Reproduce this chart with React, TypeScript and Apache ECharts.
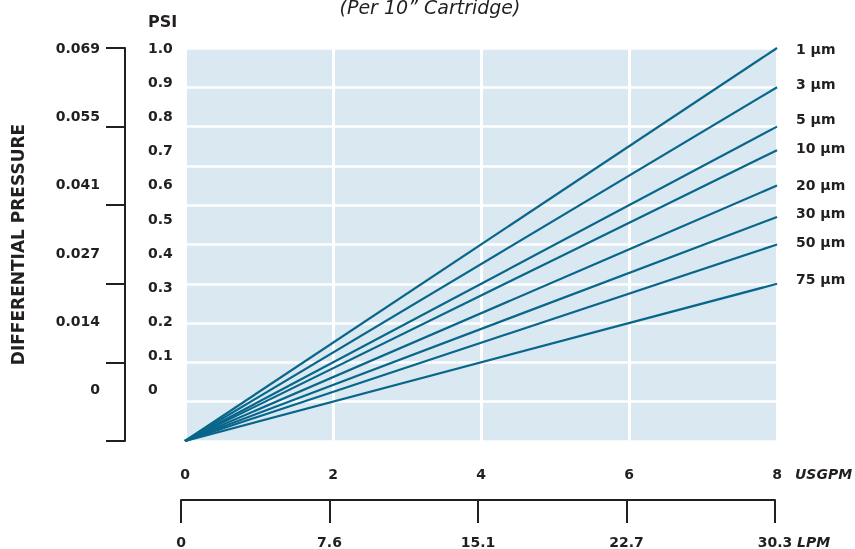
import React, { useEffect, useRef } from "react";
import * as echarts from "echarts";

// ---- data ----
const flowUSGPM = [0, 8];
const seriesNames = ["1 µm", "3 µm", "5 µm", "10 µm", "20 µm", "30 µm", "50 µm", "75 µm"];
const dp1um = [0, 1.0];
const dp3um = [0, 0.9];
const dp5um = [0, 0.8];
const dp10um = [0, 0.74];
const dp20um = [0, 0.65];
const dp30um = [0, 0.57];
const dp50um = [0, 0.5];
const dp75um = [0, 0.4];
const seriesValues = [dp1um, dp3um, dp5um, dp10um, dp20um, dp30um, dp50um, dp75um];
const barLabels = ["0", "0.014", "0.027", "0.041", "0.055", "0.069"];
const lpmLabels = ["0", "7.6", "15.1", "22.7", "30.3"];
const titleText = "(Per 10\u201D Cartridge)";

// ---- style ----
const FONT = "DejaVu Sans";
const TEXT = "#231f20";
const LINE = "#08668a";
const labelOffsets = [1, -3, -8, -2, -1, -4, -3, -5];

export default function App() {
  const ref = useRef<HTMLDivElement>(null);
  useEffect(() => {
    if (!ref.current) return;
    const chart = echarts.init(ref.current, null, { renderer: "svg" });
    const numStyle = { color: TEXT, fontFamily: FONT, fontSize: 14, fontWeight: 600 as any };
    chart.setOption({
      animation: false,
      textStyle: { fontFamily: FONT, color: TEXT },
      title: {
        text: titleText,
        left: 430,
        textAlign: "center",
        top: -3,
        padding: 0,
        textStyle: { fontFamily: FONT, fontStyle: "italic", fontWeight: "normal", fontSize: 19, color: TEXT, lineHeight: 19 },
      },
      grid: [
        { left: 185, top: 48, width: 592, height: 393, show: true, backgroundColor: "#d9e8f1", borderWidth: 0, containLabel: false, outerBoundsMode: "none" },
        { left: 148, top: 48, width: 629, height: 341, show: false, containLabel: false, outerBoundsMode: "none" },
        { left: 181, top: 480, width: 594, height: 20, show: false, containLabel: false, outerBoundsMode: "none" },
      ],
      xAxis: [
        {
          type: "value", gridIndex: 0, position: "bottom", min: 0, max: 8, interval: 2, offset: 33,
          axisLine: { show: false }, axisTick: { show: false },
          axisLabel: { ...numStyle, margin: 0, verticalAlign: "middle" },
          splitLine: { show: true, lineStyle: { color: "#ffffff", width: 3 } },
          name: "USGPM", nameLocation: "end", nameGap: 18, nameMoveOverlap: false,
          nameTextStyle: { color: TEXT, fontFamily: FONT, fontSize: 14, fontWeight: "bold", fontStyle: "italic", align: "left", verticalAlign: "top", padding: [26, 0, 0, 0] },
        },
        {
          type: "value", gridIndex: 2, position: "bottom", min: 0, max: 8, interval: 2,
          axisLine: { show: true, lineStyle: { color: TEXT, width: 2 } },
          axisTick: { show: true, length: 23, lineStyle: { color: TEXT, width: 2 } },
          axisLabel: { show: false }, splitLine: { show: false },
        },
        {
          type: "value", gridIndex: 2, position: "bottom", min: 0, max: 8, interval: 2, offset: 42,
          axisLine: { show: false }, axisTick: { show: false },
          axisLabel: { ...numStyle, margin: 0, verticalAlign: "middle", formatter: (v: number) => lpmLabels[Math.round(v / 2)] },
          splitLine: { show: false },
          name: "LPM", nameLocation: "end", nameGap: 22, nameMoveOverlap: false,
          nameTextStyle: { color: TEXT, fontFamily: FONT, fontSize: 14, fontWeight: "bold", fontStyle: "italic", align: "left", verticalAlign: "middle" },
        },
        { type: "value", gridIndex: 1, position: "bottom", min: 0, max: 8, show: false },
      ],
      yAxis: [
        {
          type: "value", gridIndex: 0, position: "left", min: 0, max: 1, interval: 0.1,
          axisLine: { show: false }, axisTick: { show: false }, axisLabel: { show: false },
          splitLine: { show: true, lineStyle: { color: "#ffffff", width: 2.5 } },
        },
        {
          type: "value", gridIndex: 0, min: 0, max: 1, interval: 0.2, offset: 60, position: "left",
          axisLine: { show: true, lineStyle: { color: TEXT, width: 2 } },
          axisTick: { show: true, length: 19, lineStyle: { color: TEXT, width: 2 } },
          axisLabel: { show: false }, splitLine: { show: false },
          name: "DIFFERENTIAL PRESSURE", nameLocation: "middle", nameGap: 107, nameMoveOverlap: false,
          nameTextStyle: { color: TEXT, fontFamily: FONT, fontSize: 17, fontWeight: "bold", verticalAlign: "middle", align: "center" },
        },
        {
          type: "value", gridIndex: 1, min: 0, max: 1, interval: 0.1, offset: 0, position: "left",
          axisLine: { show: false }, axisTick: { show: false }, splitLine: { show: false },
          axisLabel: { ...numStyle, inside: true, margin: 0, formatter: (v: number) => (v === 0 ? "0" : v.toFixed(1)) },
          name: "PSI", nameLocation: "end", nameGap: 27, nameMoveOverlap: false,
          nameTextStyle: { color: TEXT, fontFamily: FONT, fontSize: 16, fontWeight: "bold", align: "left", verticalAlign: "middle" },
        },
        {
          type: "value", gridIndex: 1, min: 0, max: 1, interval: 0.2, offset: 48, position: "left",
          axisLine: { show: false }, axisTick: { show: false }, splitLine: { show: false },
          axisLabel: { ...numStyle, margin: 0, formatter: (v: number) => barLabels[Math.round(v / 0.2)] },
        },
        { type: "value", gridIndex: 2, show: false },
      ],
      series: seriesNames.map((name, i) => ({
        name,
        type: "line",
        xAxisIndex: 0,
        yAxisIndex: 0,
        showSymbol: false,
        symbol: "none",
        data: flowUSGPM.map((x, j) => [x, seriesValues[i][j]]),
        lineStyle: { color: LINE, width: 2.2 },
        endLabel: {
          show: true,
          formatter: "{a}",
          distance: 19,
          offset: [0, labelOffsets[i]],
          color: TEXT,
          fontFamily: FONT,
          fontSize: 14,
          fontWeight: "bold",
        },
      })),
    });
    return () => chart.dispose();
  }, []);
  return <div ref={ref} style={{ position: "fixed", left: 0, top: 0, width: 855, height: 549 }} />;
}
